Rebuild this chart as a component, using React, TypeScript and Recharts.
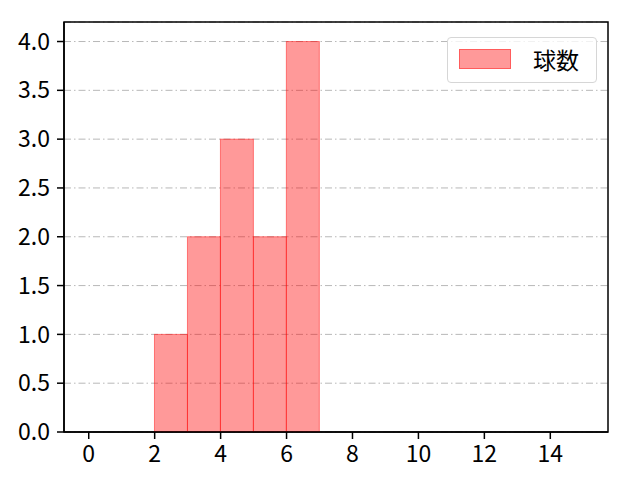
import { ComposedChart, Bar, XAxis, YAxis, CartesianGrid, Legend, ReferenceArea } from "recharts";

const binLeft = [2, 3, 4, 5, 6];
const counts = [1, 2, 3, 2, 4];
const xTicks = [0, 2, 4, 6, 8, 10, 12, 14];
const yTicks = [0, 0.5, 1.0, 1.5, 2.0, 2.5, 3.0, 3.5, 4.0];
const seriesName = "球数";

const X_DOMAIN: [number, number] = [-0.75, 15.75];
const Y_DOMAIN: [number, number] = [0, 4.2];
const PLOT_W = 544;
const FONT = '"Noto Sans CJK JP", "Noto Sans", sans-serif';
const FS = 23;

const data = binLeft.map((b, i) => ({ x: b + 0.5, count: counts[i] }));

// bin width in px on the x scale
const binPx = PLOT_W / (X_DOMAIN[1] - X_DOMAIN[0]);

function HistBar(props: any) {
  const { x, y, width, height } = props;
  const cx = x + width / 2;
  return (
    <rect
      x={cx - binPx / 2}
      y={y}
      width={binPx}
      height={height}
      fill="rgba(255,0,0,0.4)"
      stroke="rgba(255,0,0,0.45)"
      strokeWidth={1}
    />
  );
}

function LegendBox({ payload }: any) {
  const name = payload && payload[0] ? payload[0].value : seriesName;
  return (
    <div
      style={{
        width: 148,
        height: 44,
        border: "1px solid #d6d6d6",
        borderRadius: 4,
        background: "rgba(255,255,255,0.8)",
        position: "relative",
        fontFamily: FONT,
      }}
    >
      <div
        style={{
          position: "absolute",
          left: 11,
          top: 11,
          width: 52,
          height: 20,
          boxSizing: "border-box",
          background: "rgba(255,0,0,0.4)",
          border: "1px solid rgba(255,0,0,0.4)",
        }}
      />
      <span
        style={{
          position: "absolute",
          left: 85,
          top: 4,
          fontSize: FS,
          lineHeight: "34px",
          color: "#000",
        }}
      >
        {name}
      </span>
    </div>
  );
}

export default function App() {
  return (
    <div style={{ position: "absolute", left: 0, top: 0, width: 640, height: 480, background: "#fff" }}>
      <ComposedChart
        width={640}
        height={480}
        data={data}
        margin={{ top: 22, right: 32, bottom: 12, left: 10 }}
      >
        <XAxis
          dataKey="x"
          type="number"
          domain={X_DOMAIN}
          ticks={xTicks}
          allowDataOverflow
          height={36}
          tickSize={7}
          tickMargin={7}
          tick={{ fill: "#000", fontSize: FS, fontFamily: FONT }}
          axisLine={{ stroke: "#000", strokeWidth: 1.5 }}
          tickLine={{ stroke: "#000", strokeWidth: 1.5 }}
        />
        <YAxis
          type="number"
          domain={Y_DOMAIN}
          ticks={yTicks}
          allowDataOverflow
          width={54}
          tickSize={7}
          tickMargin={7}
          tickFormatter={(v: number) => v.toFixed(1)}
          tick={{ fill: "#000", fontSize: FS, fontFamily: FONT }}
          axisLine={{ stroke: "#000", strokeWidth: 1.5 }}
          tickLine={{ stroke: "#000", strokeWidth: 1.5 }}
        />
        <Bar
          dataKey="count"
          name={seriesName}
          fill="rgba(255,0,0,0.4)"
          shape={<HistBar />}
          isAnimationActive={false}
        />
        <CartesianGrid
          vertical={false}
          stroke="#b0b0b0"
          strokeWidth={0.9}
          strokeDasharray="7 3 1.5 3"
        />
        <ReferenceArea
          x1={X_DOMAIN[0]}
          x2={X_DOMAIN[1]}
          y1={Y_DOMAIN[0]}
          y2={Y_DOMAIN[1]}
          fill="none"
          fillOpacity={0}
          stroke="#000"
          strokeWidth={1.5}
          ifOverflow="visible"
        />
        <Legend
          content={<LegendBox />}
          layout="horizontal"
          verticalAlign="middle"
          align="center"
          wrapperStyle={{ position: "absolute", left: 447, top: 37, width: 150, height: 46 }}
        />
      </ComposedChart>
    </div>
  );
}
